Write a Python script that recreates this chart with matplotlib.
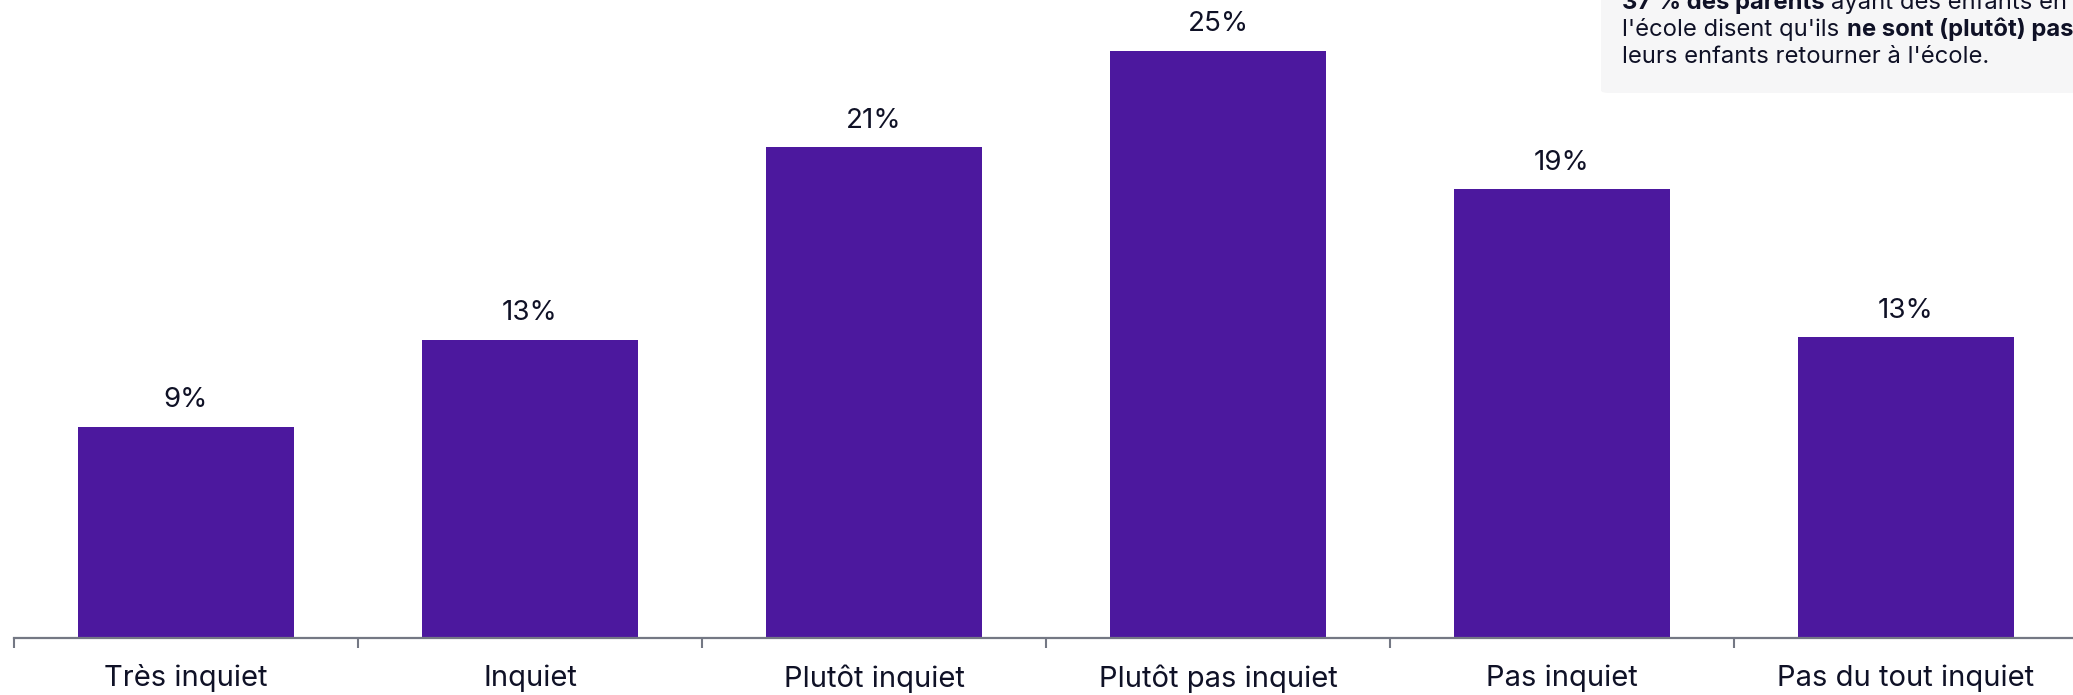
import matplotlib
matplotlib.use("Agg")
import matplotlib.pyplot as plt
from matplotlib.patches import FancyBboxPatch
from matplotlib.ticker import FixedLocator

plt.rcParams['font.family'] = ['Inter', 'DejaVu Sans']

categories = ["Très inquiet", "Inquiet", "Plutôt inquiet", "Plutôt pas inquiet", "Pas inquiet", "Pas du tout inquiet"]
values = [9.0, 12.7, 20.9, 25.0, 19.1, 12.8]
value_labels = ["9%", "13%", "21%", "25%", "19%", "13%"]

note_lines = [
    [("37 % des parents", "bold"), (" ayant des enfants en âge", "normal")],
    [("l'école disent qu'ils", "normal"), (" ", "normal"), ("ne sont (plutôt) pas inquiets", "bold")],
    [("leurs enfants retourner à l'école.", "normal")],
]

W, H, DPI = 2073, 695, 100
BAR_COLOR = "#4C189E"
TEXT_COLOR = "#0F1126"
AXIS_COLOR = "#747884"
NOTE_SIZE = 17.15

fig = plt.figure(figsize=(W / DPI, H / DPI), dpi=DPI)

# axes geometry in pixels
x0_px, base_px = 14, 638
cat_px = 344
px_per_unit = 23.5
ax_left = x0_px / W
ax_bottom = (H - base_px) / H
ax = fig.add_axes([ax_left, ax_bottom, 1 - ax_left, 1 - ax_bottom])
ax.set_xlim(-0.5, -0.5 + (W - x0_px) / cat_px)
ax.set_ylim(0, base_px / px_per_unit)

xs = list(range(len(categories)))
bars = ax.bar(xs, values, width=0.628, color=BAR_COLOR, zorder=2)
for b, lab in zip(bars, value_labels):
    ax.annotate(lab, (b.get_x() + b.get_width() / 2, b.get_height()),
                xytext=(0, 9.5), textcoords="offset points", ha="center", va="bottom",
                fontsize=20, color=TEXT_COLOR)

for s in ["top", "right", "left"]:
    ax.spines[s].set_visible(False)
ax.spines["bottom"].set_color(AXIS_COLOR)
ax.spines["bottom"].set_linewidth(1.6)
ax.set_yticks([])
ax.set_xticks(xs)
ax.set_xticklabels(categories, fontsize=21, color=TEXT_COLOR)
ax.tick_params(axis="x", which="major", length=0, pad=19)
ax.xaxis.set_minor_locator(FixedLocator([i - 0.5 for i in range(len(categories) + 1)]))
ax.tick_params(axis="x", which="minor", length=7.5, width=1.5, color=AXIS_COLOR)

# note box (top right, partly outside the figure)
box = FancyBboxPatch((1601 / W, 1 - 93 / H), 0.5, 0.3, boxstyle="round,pad=0,rounding_size=0.004",
                     transform=fig.transFigure, facecolor="#F6F6F7", edgecolor="none", zorder=0)
fig.patches.append(box)

fig.canvas.draw()
renderer = fig.canvas.get_renderer()


def text_width(s, weight):
    t = fig.text(0, 0, s, fontsize=NOTE_SIZE, fontweight=weight)
    w = t.get_window_extent(renderer).width
    t.remove()
    return w


baselines = [9, 36, 63]
for line, yb in zip(note_lines, baselines):
    x = 1622
    for seg, weight in line:
        space_w = text_width("a a", weight) - text_width("aa", weight)
        core = seg.strip()
        if core:
            lead = len(seg) - len(seg.lstrip())
            x += lead * space_w
            fig.text(x / W, 1 - yb / H, core, fontsize=NOTE_SIZE, fontweight=weight, color=TEXT_COLOR,
                     ha="left", va="baseline")
            x += text_width(core, weight)
            trail = len(seg) - len(seg.rstrip())
            x += trail * space_w
        else:
            x += len(seg) * space_w + 1

fig.savefig("out.png", dpi=DPI)
